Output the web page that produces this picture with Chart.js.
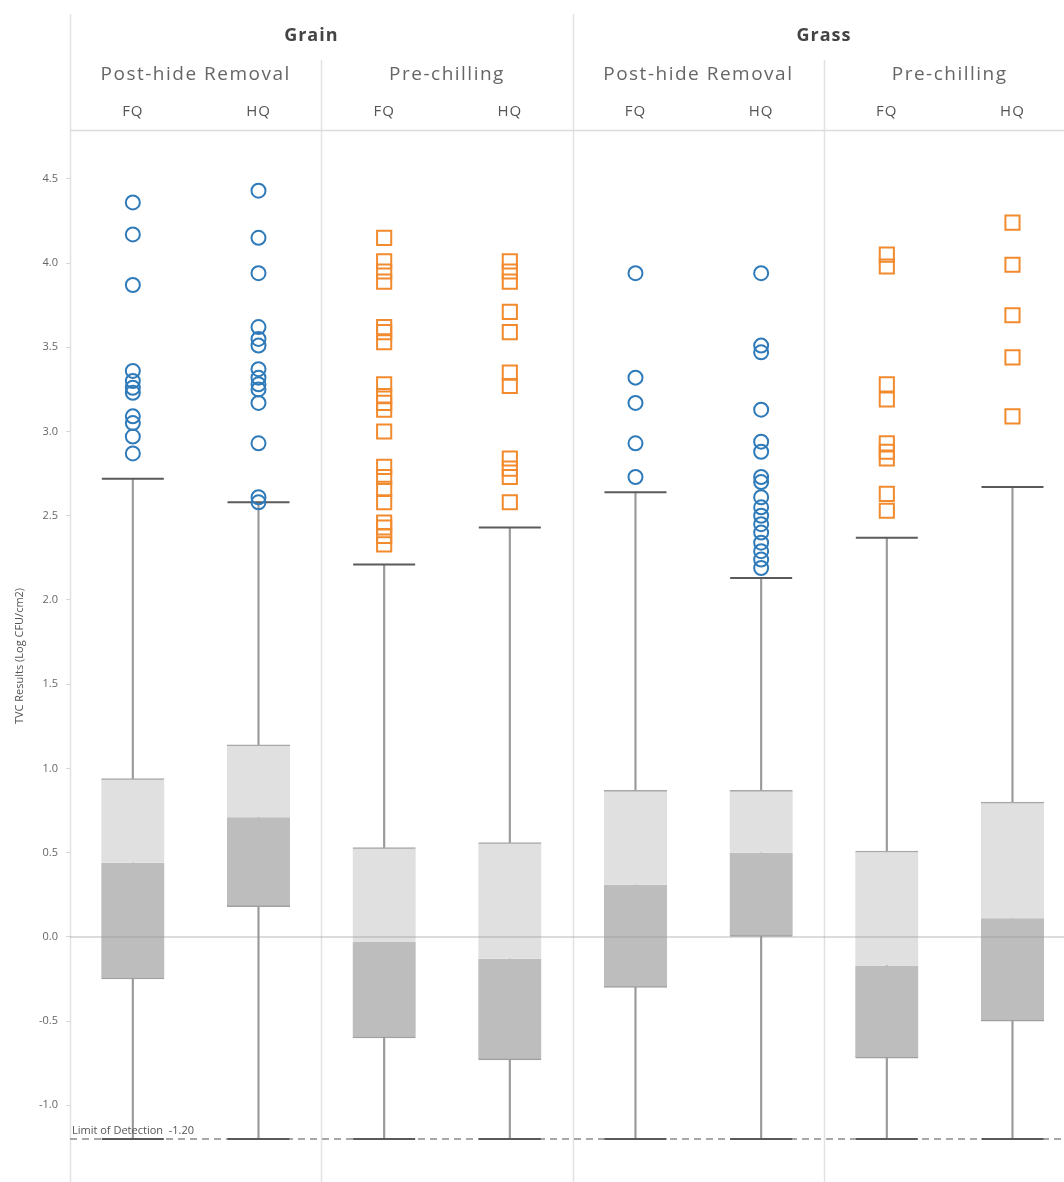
<!DOCTYPE html>
<html>
<head>
<meta charset="utf-8">
<script src="https://cdn.jsdelivr.net/npm/chart.js@4.4.0/dist/chart.umd.min.js"></script>
<style>
  html, body { margin: 0; padding: 0; background: #ffffff; overflow: hidden; }
  #grafico-wrap { width: 1064px; height: 1182px; }
</style>
</head>
<body>
<div id="grafico-wrap"><canvas id="grafico"></canvas></div>
<script>
// dados:
const grupos = ["Grain", "Grass"];
const etapas = ["Post-hide Removal", "Pre-chilling", "Post-hide Removal", "Pre-chilling"];
const qualidades = ["FQ", "HQ", "FQ", "HQ", "FQ", "HQ", "FQ", "HQ"];
const limiteDeteccao = -1.2;
const ticksY = [-1.0, -0.5, 0.0, 0.5, 1.0, 1.5, 2.0, 2.5, 3.0, 3.5, 4.0, 4.5];

const bigodeInf = [-1.2, -1.2, -1.2, -1.2, -1.2, -1.2, -1.2, -1.2];
const q1 = [-0.25, 0.18, -0.6, -0.73, -0.3, 0.0, -0.72, -0.5];
const mediana = [0.44, 0.71, -0.03, -0.13, 0.31, 0.5, -0.17, 0.11];
const q3 = [0.94, 1.14, 0.53, 0.56, 0.87, 0.87, 0.51, 0.8];
const bigodeSup = [2.72, 2.58, 2.21, 2.43, 2.64, 2.13, 2.37, 2.67];

// outliers de cada coluna (Post-hide = círculos, Pre-chilling = quadrados)
const outliers = [
  [4.36, 4.17, 3.87, 3.36, 3.3, 3.26, 3.23, 3.09, 3.05, 2.97, 2.87],
  [4.43, 4.15, 3.94, 3.62, 3.55, 3.51, 3.37, 3.32, 3.28, 3.25, 3.17, 2.93, 2.61, 2.58],
  [4.15, 4.01, 3.95, 3.89, 3.62, 3.59, 3.53, 3.28, 3.21, 3.17, 3.13, 3.0, 2.79, 2.73, 2.66, 2.58, 2.46, 2.43, 2.38, 2.33],
  [4.01, 3.95, 3.89, 3.71, 3.59, 3.35, 3.27, 2.84, 2.78, 2.73, 2.58],
  [3.94, 3.32, 3.17, 2.93, 2.73],
  [3.94, 3.51, 3.47, 3.13, 2.94, 2.88, 2.73, 2.7, 2.61, 2.55, 2.5, 2.45, 2.4, 2.34, 2.29, 2.24, 2.19],
  [4.05, 3.98, 3.28, 3.19, 2.93, 2.88, 2.84, 2.63, 2.53],
  [4.24, 3.99, 3.69, 3.44, 3.09],
];
const colunaCirculo = [true, true, false, false, true, true, false, false];

// limites visíveis
const xMin = -0.5;
const xMax = 7.41;
const yMin = -1.455;
const yMax = 4.79;

// funções:
function montarDatasets() {
  const idx = qualidades.map((_, i) => i);
  const pontosCirculo = [];
  const pontosQuadrado = [];
  outliers.forEach((lista, i) => {
    lista.forEach((v) => (colunaCirculo[i] ? pontosCirculo : pontosQuadrado).push({ x: i, y: v }));
  });

  return [
    {
      type: "scatter",
      label: "circulos",
      data: pontosCirculo,
      pointStyle: "circle",
      pointRadius: 7,
      borderWidth: 2,
      borderColor: "#2f7ab9",
      backgroundColor: "rgba(0,0,0,0)",
      order: 0,
    },
    {
      type: "scatter",
      label: "quadrados",
      data: pontosQuadrado,
      pointStyle: "rect",
      pointRadius: 10,
      borderWidth: 2,
      borderColor: "#f28a2e",
      backgroundColor: "rgba(0,0,0,0)",
      order: 0,
    },
    {
      type: "line",
      label: "zero",
      data: [{ x: xMin, y: 0 }, { x: xMax, y: 0 }],
      borderColor: "rgba(150,150,150,0.45)",
      borderWidth: 1.5,
      pointRadius: 0,
      order: 1,
    },
    {
      type: "scatter",
      label: "caps",
      data: idx.map((i) => ({ x: i, y: bigodeSup[i] })).concat(idx.map((i) => ({ x: i, y: bigodeInf[i] }))),
      pointStyle: "line",
      pointRadius: 31,
      borderWidth: 2,
      borderColor: "#5a5a5a",
      order: 1,
    },
    {
      type: "line",
      label: "limite",
      data: [{ x: xMin, y: limiteDeteccao }, { x: xMax, y: limiteDeteccao }],
      borderColor: "#8a8a8a",
      borderWidth: 1.5,
      borderDash: [7, 5],
      pointRadius: 0,
      order: 2,
    },
    {
      type: "bar",
      label: "superior",
      data: idx.map((i) => ({ x: i, y: [mediana[i], q3[i]] })),
      backgroundColor: "#e0e0e0",
      borderColor: "#a8a8a8",
      borderWidth: { top: 1.5, bottom: 0, left: 0, right: 0 },
      borderSkipped: false,
      barThickness: 63,
      grouped: false,
      order: 3,
    },
    {
      type: "bar",
      label: "inferior",
      data: idx.map((i) => ({ x: i, y: [q1[i], mediana[i]] })),
      backgroundColor: "#bdbdbd",
      borderColor: "#a0a0a0",
      borderWidth: { top: 0, bottom: 1.5, left: 0, right: 0 },
      borderSkipped: false,
      barThickness: 63,
      grouped: false,
      order: 3,
    },
    {
      type: "bar",
      label: "bigode",
      data: idx.map((i) => ({ x: i, y: [bigodeInf[i], bigodeSup[i]] })),
      backgroundColor: "#9a9a9a",
      barThickness: 1.5,
      grouped: false,
      order: 4,
    },
  ];
}

const pluginCabecalho = {
  id: "cabecalho",
  beforeDatasetsDraw(chart) {
    const { ctx, scales: { x } } = chart;
    const base = chart.height;
    ctx.save();
    ctx.strokeStyle = "#e2e2e2";
    ctx.lineWidth = 1.5;
    [[-0.5, 14], [1.5, 60], [3.5, 14], [5.5, 60]].forEach(([v, topo]) => {
      const px = Math.round(x.getPixelForValue(v)) + 0.5;
      ctx.beginPath();
      ctx.moveTo(px, topo);
      ctx.lineTo(px, base);
      ctx.stroke();
    });
    ctx.strokeStyle = "#dcdcdc";
    ctx.beginPath();
    ctx.moveTo(x.getPixelForValue(-0.5), 130.5);
    ctx.lineTo(chart.width, 130.5);
    ctx.stroke();
    ctx.restore();
  },
  afterDraw(chart) {
    const { ctx, scales: { x, y } } = chart;
    ctx.save();
    ctx.textAlign = "center";
    ctx.textBaseline = "middle";
    ctx.letterSpacing = "1px";

    // Grain fica um pouco à esquerda do centro no original
    ctx.fillStyle = "#444";
    ctx.font = 'bold 18px "Open Sans", sans-serif';
    grupos.forEach((g, i) => ctx.fillText(g, x.getPixelForValue(1.5 + i * 4) - (i === 0 ? 10 : 0), 36));

    ctx.letterSpacing = "1.5px";
    ctx.fillStyle = "#666";
    ctx.font = '19px "Open Sans", sans-serif';
    etapas.forEach((e, i) => ctx.fillText(e, x.getPixelForValue(0.5 + i * 2), 75));

    ctx.letterSpacing = "1px";
    ctx.fillStyle = "#555";
    ctx.font = '15px "Open Sans", sans-serif';
    qualidades.forEach((q, i) => ctx.fillText(q, x.getPixelForValue(i), 112));

    ctx.letterSpacing = "0px";
    ctx.textAlign = "left";
    ctx.textBaseline = "alphabetic";
    ctx.fillStyle = "#555";
    ctx.font = '11px "Open Sans", sans-serif';
    ctx.fillText("Limit of Detection  " + limiteDeteccao.toFixed(2), x.getPixelForValue(-0.5) + 2, y.getPixelForValue(limiteDeteccao) - 5);
    ctx.restore();
  },
};

function gerarGrafico() {
  const config = {
    type: "bar",
    data: { datasets: montarDatasets() },
    options: {
      responsive: true,
      maintainAspectRatio: false,
      animation: false,
      layout: { autoPadding: false, padding: { top: 130, right: 0, bottom: 0, left: 0 } },
      plugins: {
        legend: { display: false },
        tooltip: { enabled: false },
      },
      scales: {
        x: {
          type: "linear",
          min: xMin,
          max: xMax,
          offset: false,
          display: false,
        },
        y: {
          type: "linear",
          min: yMin,
          max: yMax,
          afterBuildTicks: (scale) => {
            scale.ticks = ticksY.map((v) => ({ value: v }));
          },
          afterFit: (scale) => {
            scale.width = 70;
            scale.paddingTop = 0;
            scale.paddingBottom = 0;
          },
          border: { display: false },
          grid: {
            color: "rgba(0,0,0,0)",
            tickColor: "#d6d6d6",
            tickLength: 4,
            drawTicks: true,
          },
          ticks: {
            padding: 8,
            color: "#666",
            font: { size: 11, family: '"Open Sans", sans-serif' },
            callback: (v) => Number(v).toFixed(1),
          },
          title: {
            display: true,
            text: "TVC Results (Log CFU/cm2)",
            color: "#555",
            font: { size: 11, family: '"Open Sans", sans-serif' },
            padding: { top: 13, bottom: 0 },
          },
        },
      },
    },
    plugins: [pluginCabecalho],
  };

  return new Chart(document.getElementById("grafico"), config);
}

// eventos:
gerarGrafico();
</script>
</body>
</html>
